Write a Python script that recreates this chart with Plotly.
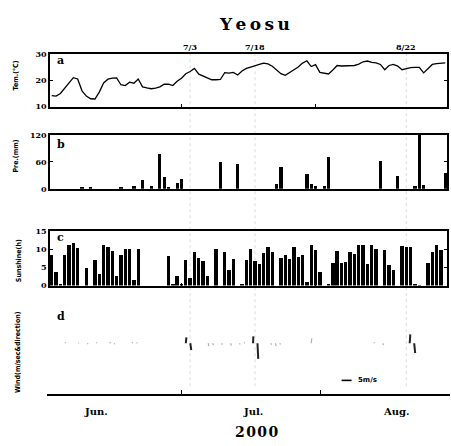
import pandas as pd
import plotly.graph_objects as go

# ---------------- data ----------------
dates = pd.date_range("2000-06-01", "2000-08-31", freq="D")

temperature = [14.2, 14.0, 15.0, 17.0, 19.0, 21.0, 20.5, 16.0, 14.0, 13.0,
               12.9, 15.5, 19.0, 20.4, 20.8, 20.9, 18.3, 18.0, 19.3, 18.9,
               20.5, 17.5, 17.1, 16.8, 17.0, 17.5, 18.5, 18.5, 18.0, 19.6,
               20.8, 22.5, 23.3, 24.5, 22.3, 21.7, 21.0, 20.2, 20.2, 20.3,
               22.9, 22.7, 23.0, 22.0, 23.5, 24.5, 25.0, 25.6, 26.0, 26.5,
               26.2, 25.3, 23.9, 22.5, 21.9, 22.9, 23.8, 25.0, 26.5, 27.4,
               25.2, 25.9, 23.0, 22.6, 22.4, 23.9, 25.6, 25.4, 25.4, 25.4,
               25.6, 26.1, 27.0, 27.3, 26.8, 26.6, 26.0, 24.0, 25.6, 26.0,
               25.4, 24.0, 24.5, 24.8, 24.9, 24.9, 22.8, 24.3, 26.0, 26.3,
               26.4, 26.6]

precip_days = [7, 9, 16, 19, 21, 23, 25, 26, 27, 29, 30, 39, 43, 52, 53,
               59, 60, 61, 63, 64, 76, 80, 84, 85, 86, 91]
precip_mm = [2, 2, 5, 6, 20, 7, 78, 27, 5, 13, 22, 60, 55, 11, 49,
             34, 11, 7, 7, 72, 63, 28, 6, 120, 8, 36]

sun_days = [0, 1, 2, 3, 4, 5, 6, 8, 10, 11, 12, 13, 14, 15, 16, 17, 18, 19, 20,
            27, 28, 29, 30, 31, 32, 33, 34, 35, 36, 38, 40, 41, 42, 44, 45, 46,
            47, 48, 49, 50, 51, 53, 54, 55, 56, 57, 58, 59, 60, 61, 62, 64, 65,
            66, 67, 68, 69, 70, 71, 72, 73, 74, 75, 77, 78, 79, 81, 82, 83, 84,
            85, 87, 88, 89, 90]
sun_hours = [8.3, 3.9, 0.4, 8.5, 11.1, 11.6, 10.3, 4.8, 7.0, 3.3, 11.1, 10.6, 9.5,
             2.8, 8.3, 10.0, 10.0, 1.5, 10.0,
             8.2, 0.5, 2.6, 0.6, 7.0, 2.0, 9.3, 7.5, 6.7, 2.8, 10.0, 9.3, 4.4, 7.3,
             0.4, 7.0, 10.0, 6.8, 5.9, 9.0, 10.6, 9.3, 7.5, 8.4, 7.3, 10.6, 8.0,
             8.5, 1.1, 11.1, 9.8, 3.9, 0.4, 6.2, 9.5, 6.2, 6.4, 9.3, 8.8, 11.1,
             11.3, 5.9, 11.1, 10.0, 9.8, 5.6, 4.4, 10.8, 10.6, 10.6, 0.5, 0.2,
             6.2, 9.3, 11.1, 9.8]

# wind vectors (m/s): faint daily vectors and strong-event vectors
wind_days = [4, 7, 9, 11, 14, 15, 19, 20, 36, 37, 39, 41, 43, 44, 50, 51, 52, 59, 73, 75]
wind_u = [0.4, 0.3, 0.4, 0.3, 0.4, 0.3, 0.3, 0.4, 0.3, 0.4, 0.3, 0.4, 0.3, 0.4, 0.3, 0.4, 0.3, 0.3, 0.4, 0.3]
wind_v = [0.5, 0.3, -0.4, 0.4, 0.6, -0.5, 0.5, 0.4, -1.5, -1.0, -0.8, -1.2, -0.6, 0.4, -0.8, -1.5, -0.6, 2.5, 0.5, -1.0]
event_days = [31, 32, 46, 47, 81, 82]
event_u = [0.3, 0.5, 0.2, 0.4, 0.3, 0.5]
event_v = [3.0, -3.5, 3.5, -8.0, 4.5, -5.0]

marked_dates = ["2000-07-03", "2000-07-18", "2000-08-22"]
marked_labels = ["7/3", "7/18", "8/22"]
month_labels = ["Jun.", "Jul.", "Aug."]
month_label_dates = ["2000-06-12", "2000-07-17", "2000-08-18"]
month_bounds = ["2000-07-01", "2000-08-01"]

# ---------------- figure ----------------
W, H = 451, 446
def px(x): return x / W
def py(y): return 1 - y / H

DAY = pd.Timedelta(days=1)
fig = go.Figure()

# (a) temperature
fig.add_trace(go.Scatter(x=dates, y=temperature, mode="lines",
                         line=dict(color="black", width=1.3),
                         xaxis="x", yaxis="y", showlegend=False))
# (b) precipitation
fig.add_trace(go.Bar(x=[dates[d] for d in precip_days], y=precip_mm,
                     marker=dict(color="black", line=dict(width=0)),
                     width=0.75 * 86400000, xaxis="x2", yaxis="y2", showlegend=False))
# (c) sunshine
fig.add_trace(go.Bar(x=[dates[d] for d in sun_days], y=sun_hours,
                     marker=dict(color="black", line=dict(width=0)),
                     width=0.78 * 86400000, xaxis="x3", yaxis="y3", showlegend=False))

# (d) wind vectors: 1 m/s = 0.446 day horizontally
K = 0.446
def segs(days, us, vs):
    xs, ys = [], []
    for d, u, v in zip(days, us, vs):
        xs += [dates[d], dates[d] + u * K * DAY, None]
        ys += [0, v, None]
    return xs, ys
xs, ys = segs(wind_days, wind_u, wind_v)
fig.add_trace(go.Scatter(x=xs, y=ys, mode="lines", line=dict(color="#b0b0b0", width=1.2),
                         xaxis="x4", yaxis="y4", showlegend=False))
xs, ys = segs(event_days, event_u, event_v)
fig.add_trace(go.Scatter(x=xs, y=ys, mode="lines", line=dict(color="#222", width=2),
                         xaxis="x4", yaxis="y4", showlegend=False))
# 5 m/s scale bar
scale_start = pd.Timestamp("2000-08-05 19:00")
fig.add_trace(go.Scatter(x=[scale_start, scale_start + 5 * K * DAY], y=[-19, -19], mode="lines",
                         line=dict(color="black", width=1.6),
                         xaxis="x4", yaxis="y4", showlegend=False))

rng_abc = [pd.Timestamp("2000-06-01") - 0.4 * DAY, pd.Timestamp("2000-08-31") + 0.4 * DAY]
tickfont = dict(family="DejaVu Serif", size=8, color="black", weight="bold")

def xax(dom, anchor):
    return dict(domain=dom, anchor=anchor, range=rng_abc, type="date",
                showline=True, linecolor="black", linewidth=1.5, mirror=True,
                ticks="inside", ticklen=3, tickcolor="black",
                tickvals=month_bounds, showticklabels=False, showgrid=False, zeroline=False)

def yax(dom, anchor, rng, tv):
    return dict(domain=dom, anchor=anchor, range=rng, tickvals=tv,
                showline=True, linecolor="black", linewidth=1.5, mirror="ticks",
                ticks="inside", ticklen=3, tickcolor="black", tickfont=tickfont,
                showgrid=False, zeroline=False)

dom_x = [px(50), px(447)]
fig.update_layout(
    width=W, height=H, margin=dict(l=0, r=0, t=0, b=0),
    paper_bgcolor="white", plot_bgcolor="white", bargap=0,
    xaxis=xax(dom_x, "y"),
    yaxis=yax([py(104), py(50)], "x", [10, 30], [10, 20, 30]),
    xaxis2=xax(dom_x, "y2"),
    yaxis2=yax([py(188), py(133)], "x2", [0, 120], [0, 60, 120]),
    xaxis3=xax(dom_x, "y3"),
    yaxis3=yax([py(287), py(231)], "x3", [0, 15], [0, 5, 10, 15]),
    xaxis4=dict(domain=[px(47), px(450)], anchor="y4", type="date",
                range=[pd.Timestamp("2000-06-01"), pd.Timestamp("2000-08-30")],
                showline=True, linecolor="black", linewidth=1.5, mirror=False,
                tickvals=["2000-06-01"] + month_bounds, ticks="inside", ticklen=4,
                tickcolor="black", showticklabels=False,
                showgrid=False, zeroline=False),
    yaxis4=dict(domain=[py(398), py(310)], anchor="x4", range=[-26, 18],
                visible=False, showgrid=False, zeroline=False),
    showlegend=False,
)

def A(text, x, y, xref="paper", yref="paper", size=8, family="DejaVu Serif", **kw):
    d = dict(text=text, x=x, y=y, xref=xref, yref=yref, showarrow=False,
             xanchor=kw.pop("xanchor", "center"), yanchor="middle",
             font=dict(family=family, size=size, color="black"))
    d.update(kw)
    return d

ann = []
ann.append(A("<b>Y\u2009e\u2009o\u2009s\u2009u</b>", px(254), py(19), size=17))
ann.append(A("<b>2\u200a0\u200a0\u200a0</b>", px(256), py(437), size=14))
for lab, dte in zip(month_labels, month_label_dates):
    ann.append(A("<b>%s</b>" % lab, dte, py(416), xref="x4", size=10))
for lab, yy in zip(["a", "b", "c", "d"], [57, 143, 238, 319]):
    ann.append(A("<b>%s</b>" % lab, px(55), py(yy), size=11, xanchor="left"))
for lab, dte in zip(marked_labels, marked_dates):
    ann.append(A("<b>%s</b>" % lab, dte, py(43), xref="x", size=8))
for lab, xx, yy in [("Tem.(℃)", 16, 72), ("Pre.(mm)", 16, 155),
                    ("Sunshine(h)", 19, 262), ("Wind(m/sec&direction)", 18, 355)]:
    ann.append(A("<b>%s</b>" % lab, px(xx), py(yy), size=7,
                 family="DejaVu Sans Condensed", textangle=-90))
ann.append(A("<b>5m/s</b>", scale_start + 5 * K * DAY + 1.0 * DAY, -19, xref="x4", yref="y4",
             size=7, family="DejaVu Sans", xanchor="left"))
fig.update_layout(annotations=ann)

# faint dotted markers of event dates
shapes = []
for dte in marked_dates:
    shapes.append(dict(type="line", xref="x", yref="paper", x0=dte, x1=dte,
                       y0=py(390), y1=py(50), line=dict(color="#dddddd", width=1, dash="dot"),
                       layer="below"))
fig.update_layout(shapes=shapes)

fig.write_html("out.html")
